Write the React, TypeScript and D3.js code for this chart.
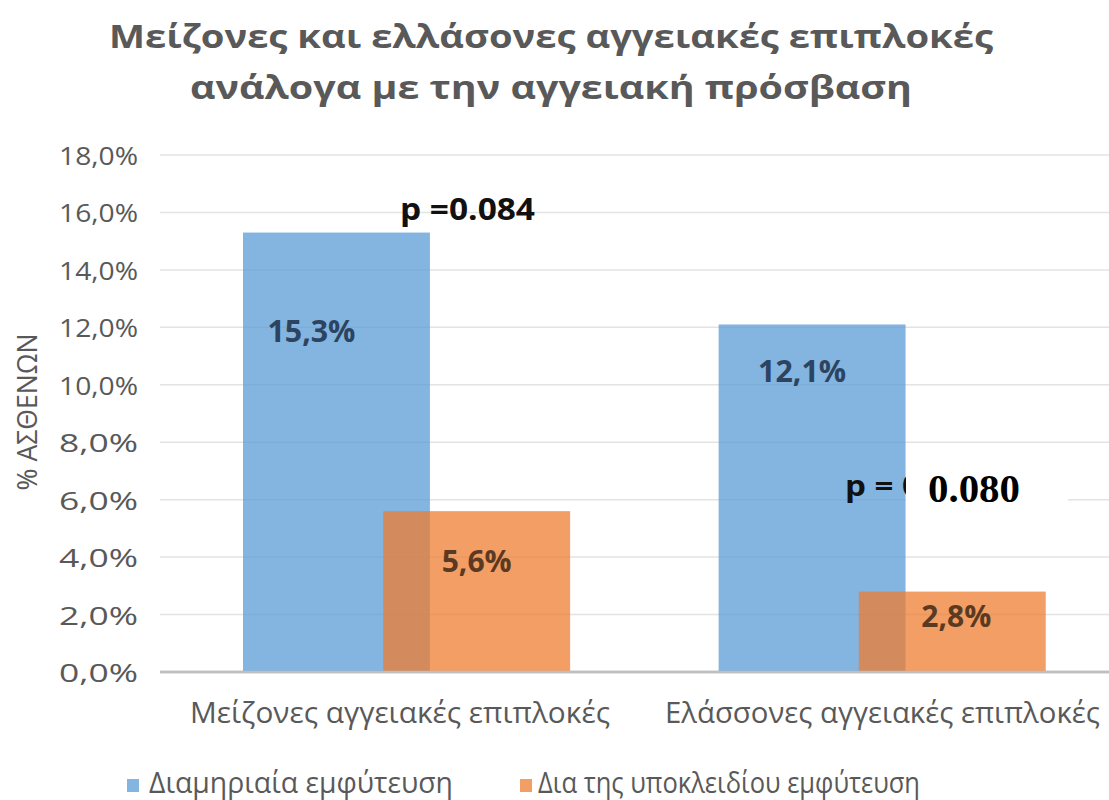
import React from "react";
import * as d3 from "d3";

const categories = ["Μείζονες αγγειακές επιπλοκές", "Ελάσσονες αγγειακές επιπλοκές"];
const seriesNames = ["Διαμηριαία εμφύτευση", "Δια της υποκλειδίου εμφύτευση"];
const femoral = [15.3, 12.1];
const subclavian = [5.6, 2.8];
const yTicks = [0, 2, 4, 6, 8, 10, 12, 14, 16, 18];
const titleLines = ["Μείζονες και ελλάσονες αγγειακές επιπλοκές", "ανάλογα με την αγγειακή πρόσβαση"];
const yTitle = "% ΑΣΘΕΝΩΝ";
const pValues = ["p =0.084", "0.080"];

const W = 1109;
const H = 800;
const FONT = "'Open Sans', 'Noto Sans', sans-serif";

const fmt = (v: number) => v.toFixed(1).replace(".", ",") + "%";

export default function App() {
  const y = d3.scaleLinear().domain([0, 18]).range([672, 155]);
  const x = d3.scaleBand<string>().domain(categories).range([168.75, 1120]).padding(0);
  const bw = x.bandwidth() * 0.393;
  const ov = bw * 0.125;
  const center = (c: string) => (x(c) as number) + x.bandwidth() / 2;

  const blueFill = "#5B9BD5";
  const orangeFill = "#ED7D31";
  const op = 0.75;

  // label anchor positions (in value units along the y scale) and horizontal nudges
  const blueLabelDx = [-25, -10];
  const blueLabelY = [11.5, 10.08];
  const orangeLabelDx = [0, 4];
  const orangeLabelY = [3.47, 1.56];

  return (
    <svg width={W} height={H} style={{ position: "absolute", left: 0, top: 0, background: "#fff" }}>
      <rect x={0} y={0} width={W} height={H} fill="#fff" />
      {/* title */}
      <text x={551} y={48} textAnchor="middle" fontFamily={FONT} fontWeight={700} fontSize={33} fill="#595959" textLength={884} lengthAdjust="spacingAndGlyphs">
        {titleLines[0]}
      </text>
      <text x={551} y={99} textAnchor="middle" fontFamily={FONT} fontWeight={700} fontSize={33} fill="#595959" textLength={722} lengthAdjust="spacingAndGlyphs">
        {titleLines[1]}
      </text>

      {/* gridlines */}
      {yTicks.map((t) => (
        <line key={"g" + t} x1={160} x2={W} y1={y(t)} y2={y(t)} stroke={t === 0 ? "#BFBFBF" : "#E3E3E3"} strokeWidth={t === 0 ? 2.5 : 1.5} />
      ))}
      {/* y tick labels */}
      {yTicks.map((t) => (
        <text key={"t" + t} x={138} y={y(t) + 10} textAnchor="end" fontFamily={FONT} fontSize={26} fill="#595959" textLength={79} lengthAdjust="spacingAndGlyphs">
          {fmt(t)}
        </text>
      ))}
      {/* y title */}
      <text transform={`translate(37,412) rotate(-90)`} textAnchor="middle" fontFamily={FONT} fontSize={27} fill="#595959" textLength={157} lengthAdjust="spacingAndGlyphs">
        {yTitle}
      </text>

      {/* bars */}
      {categories.map((c, i) => {
        const cx = center(c);
        return (
          <g key={"b" + c}>
            <rect x={cx - bw + ov} y={y(femoral[i])} width={bw} height={y(0) - y(femoral[i])} fill={blueFill} fillOpacity={op} />
            <rect x={cx - ov} y={y(subclavian[i])} width={bw} height={y(0) - y(subclavian[i])} fill={orangeFill} fillOpacity={op} />
          </g>
        );
      })}
      <line x1={160} x2={W} y1={y(0)} y2={y(0)} stroke="#BFBFBF" strokeWidth={2.5} />

      {/* data labels */}
      {categories.map((c, i) => {
        const cx = center(c);
        const bcx = cx - bw / 2 + ov;
        const ocx = cx + bw / 2 - ov;
        return (
          <g key={"l" + c}>
            <text x={bcx + blueLabelDx[i]} y={y(blueLabelY[i])} textAnchor="middle" fontFamily={FONT} fontWeight={700} fontSize={30} fill="#2C4460" textLength={88} lengthAdjust="spacingAndGlyphs">
              {fmt(femoral[i])}
            </text>
            <text x={ocx + orangeLabelDx[i]} y={y(orangeLabelY[i])} textAnchor="middle" fontFamily={FONT} fontWeight={700} fontSize={30} fill="#5A3A22" textLength={70} lengthAdjust="spacingAndGlyphs">
              {fmt(subclavian[i])}
            </text>
          </g>
        );
      })}

      {/* p-value annotations */}
      <text x={400} y={220} fontFamily={FONT} fontWeight={700} fontSize={31} fill="#111" textLength={135} lengthAdjust="spacingAndGlyphs">
        {pValues[0]}
      </text>
      <text x={845} y={496} fontFamily={FONT} fontWeight={700} fontSize={29} fill="#111" textLength={76} lengthAdjust="spacingAndGlyphs">
        {"p = 0"}
      </text>
      <rect x={906} y={450} width={162} height={80} fill="#fff" />
      <text x={928} y={502} fontFamily="'Liberation Serif', 'DejaVu Serif', serif" fontWeight={700} fontSize={40} fill="#000" textLength={92} lengthAdjust="spacingAndGlyphs">
        {pValues[1]}
      </text>

      {/* category labels */}
      {categories.map((c, i) => (
        <text key={"c" + c} x={i === 0 ? 190 : 1100} y={723} textAnchor={i === 0 ? "start" : "end"} fontFamily={FONT} fontSize={29} fill="#595959" textLength={i === 0 ? 420 : 435} lengthAdjust="spacingAndGlyphs">
          {c}
        </text>
      ))}

      {/* legend */}
      <rect x={127} y={779} width={12} height={13} fill={blueFill} fillOpacity={op} />
      <text x={149} y={793} fontFamily={FONT} fontSize={29} fill="#595959" textLength={304} lengthAdjust="spacingAndGlyphs">
        {seriesNames[0]}
      </text>
      <rect x={520} y={779} width={12} height={13} fill={orangeFill} fillOpacity={op} />
      <text x={538} y={793} fontFamily={FONT} fontSize={29} fill="#595959" textLength={382} lengthAdjust="spacingAndGlyphs">
        {seriesNames[1]}
      </text>
    </svg>
  );
}
